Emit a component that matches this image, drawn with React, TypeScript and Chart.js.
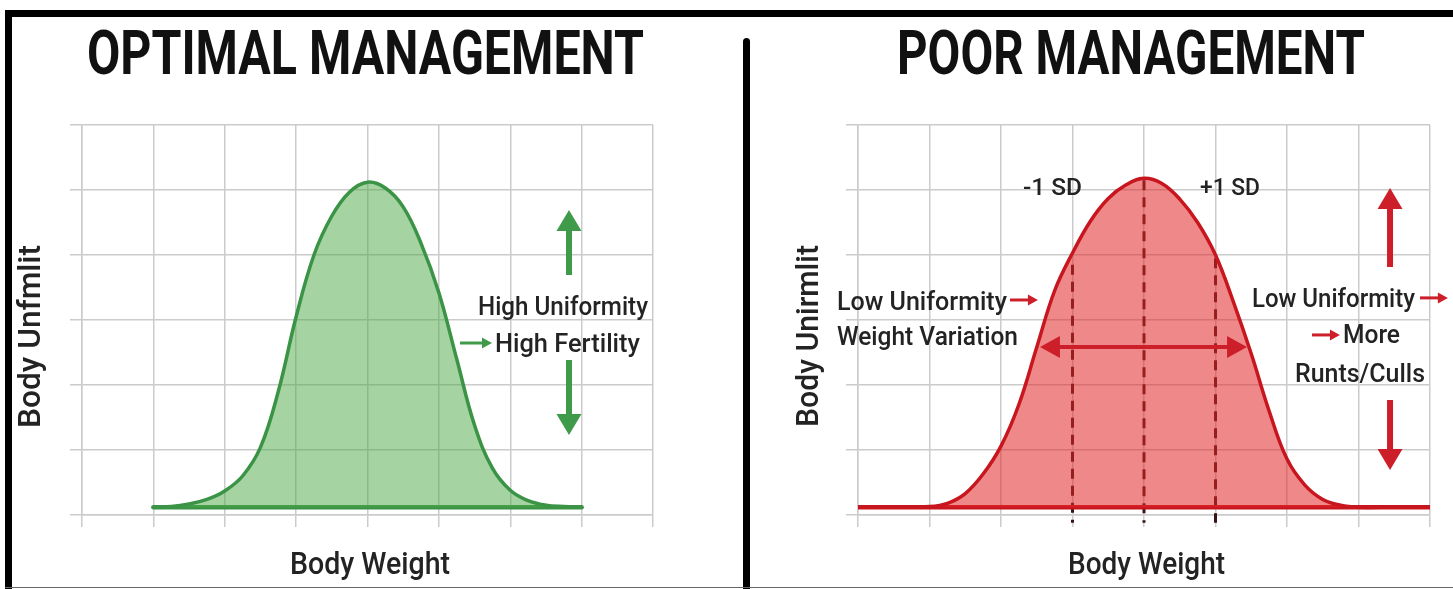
import React, { useEffect, useRef } from "react";
import { Chart, registerables } from "chart.js";

Chart.register(...registerables);

// ---- Data (x = body-weight grid units, y = uniformity grid units) ----
const optimalWeight = [1, 1.25, 1.5, 1.75, 2, 2.25, 2.5, 2.75, 3, 3.25, 3.5, 3.75, 4, 4.25, 4.5, 4.75, 5, 5.25, 5.5, 5.75, 6, 6.25, 6.5, 6.75, 7];
const optimalUniformity = [0.12, 0.13, 0.17, 0.24, 0.37, 0.6, 1.04, 1.9, 3.05, 4.0, 4.6, 4.97, 5.12, 5.03, 4.74, 4.18, 3.42, 2.4, 1.38, 0.72, 0.38, 0.22, 0.15, 0.13, 0.12];

const poorWeight = [0, 0.5, 1, 1.25, 1.5, 1.75, 2, 2.25, 2.5, 2.75, 3, 3.25, 3.5, 3.75, 4, 4.25, 4.5, 4.75, 5, 5.25, 5.5, 5.75, 6, 6.25, 6.5, 6.75, 7, 7.5, 8];
const poorUniformity = [0.12, 0.12, 0.13, 0.18, 0.33, 0.63, 1.06, 1.7, 2.58, 3.45, 4.03, 4.52, 4.87, 5.08, 5.18, 5.1, 4.86, 4.5, 4.0, 3.28, 2.48, 1.6, 0.86, 0.46, 0.24, 0.15, 0.12, 0.12, 0.12];

const baseLevel = 0.12;
const optimalBaseRange = [1, 7];
const poorBaseRange = [0, 8];

const sdLabels = ["-1 SD", "+1 SD"];
const sdPositions = [3, 4, 5];
const sdTops = [3.85, 5.15, 3.95];
const sdBottom = -0.12;

const xRange = [0, 8];
const yRange = [0, 6];

// ---- Styles ----
const GRID = "#cbcbcb";
const TEXT = "#232323";
const GREEN_LINE = "#3b9446";
const GREEN_FILL = "rgba(76,168,70,0.5)";
const GREEN_ARROW = "#3f9a4a";
const RED_LINE = "#c8161f";
const RED_FILL = "rgba(226,40,40,0.55)";
const RED_ARROW = "#cc1f2a";
const DASH = "#3a1212";

type Txt = { text: string; u: number; v: number; w: number; size: number; bold?: boolean; rot?: boolean; title?: boolean };
type Arr = { u1: number; v1: number; u2: number; v2: number; kind: "big" | "small" | "double" };
type Panel = {
  weight: number[];
  values: number[];
  base: number[];
  line: string;
  fill: string;
  arrow: string;
  padding: { left: number; right: number; top: number; bottom: number };
  texts: Txt[];
  arrows: Arr[];
  sd: boolean;
};

const ARROW_STYLE = {
  big: { sw: 6, hw: 25, hl: 21 },
  small: { sw: 3, hw: 11, hl: 10 },
  double: { sw: 4, hw: 22, hl: 20 },
};

const optimalPanel: Panel = {
  weight: optimalWeight,
  values: optimalUniformity,
  base: optimalBaseRange,
  line: GREEN_LINE,
  fill: GREEN_FILL,
  arrow: GREEN_ARROW,
  padding: { left: 58, right: 90, top: 108, bottom: 62 },
  sd: false,
  texts: [
    { text: "OPTIMAL MANAGEMENT", u: 0.07, v: 6.785, w: 557, size: 61, bold: true, title: true },
    { text: "Body Weight", u: 2.914, v: -0.908, w: 160, size: 31 },
    { text: "Body Unfmlit", u: -0.588, v: 1.338, w: 183, size: 31, rot: true },
    { text: "High Uniformity", u: 5.548, v: 3.077, w: 170, size: 25 },
    { text: "High Fertility", u: 5.786, v: 2.508, w: 145, size: 25 },
  ],
  arrows: [
    { u1: 5.296, v1: 2.646, u2: 5.744, v2: 2.646, kind: "small" },
    { u1: 6.823, v1: 3.692, u2: 6.823, v2: 4.692, kind: "big" },
    { u1: 6.823, v1: 2.385, u2: 6.823, v2: 1.231, kind: "big" },
  ],
};

const poorPanel: Panel = {
  weight: poorWeight,
  values: poorUniformity,
  base: poorBaseRange,
  line: RED_LINE,
  fill: RED_FILL,
  arrow: RED_ARROW,
  padding: { left: 96, right: 23, top: 108, bottom: 62 },
  sd: true,
  texts: [
    { text: "POOR MANAGEMENT", u: 0.545, v: 6.785, w: 468, size: 61, bold: true, title: true },
    { text: "Body Weight", u: 2.937, v: -0.908, w: 157, size: 31 },
    { text: "Body Unirmlit", u: -0.559, v: 1.354, w: 182, size: 31, rot: true },
    { text: sdLabels[0], u: 2.308, v: 4.923, w: 59, size: 23 },
    { text: sdLabels[1], u: 4.783, v: 4.923, w: 60, size: 23 },
    { text: "Low Uniformity", u: -0.294, v: 3.154, w: 170, size: 25 },
    { text: "Weight Variation", u: -0.294, v: 2.615, w: 181, size: 25 },
    { text: "Low Uniformity", u: 5.51, v: 3.2, w: 163, size: 25 },
    { text: "More", u: 6.783, v: 2.646, w: 57, size: 25 },
    { text: "Runts/Culls", u: 6.112, v: 2.046, w: 130, size: 25 },
  ],
  arrows: [
    { u1: 2.126, v1: 3.308, u2: 2.517, v2: 3.308, kind: "small" },
    { u1: 2.545, v1: 2.585, u2: 5.441, v2: 2.585, kind: "double" },
    { u1: 7.86, v1: 3.34, u2: 8.25, v2: 3.34, kind: "small" },
    { u1: 6.35, v1: 2.77, u2: 6.74, v2: 2.77, kind: "small" },
    { u1: 7.441, v1: 3.815, u2: 7.441, v2: 5.031, kind: "big" },
    { u1: 7.441, v1: 1.769, u2: 7.441, v2: 0.692, kind: "big" },
  ],
};

function fitText(ctx: CanvasRenderingContext2D, t: Txt, x: number, y: number) {
  ctx.save();
  ctx.font = t.title
    ? `bold ${t.size}px "Liberation Sans Narrow", "Roboto", "Liberation Sans", sans-serif`
    : `500 ${t.size}px Roboto, "Liberation Sans", sans-serif`;
  ctx.fillStyle = t.title ? "#111111" : TEXT;
  ctx.textAlign = "left";
  ctx.textBaseline = "alphabetic";
  const natural = ctx.measureText(t.text).width || 1;
  ctx.translate(x, y);
  if (t.rot) ctx.rotate(-Math.PI / 2);
  ctx.scale(t.w / natural, 1);
  ctx.fillText(t.text, 0, 0);
  ctx.restore();
}

function drawHead(ctx: CanvasRenderingContext2D, tipX: number, tipY: number, dx: number, dy: number, hw: number, hl: number) {
  const nx = -dy, ny = dx;
  const bx = tipX - dx * hl, by = tipY - dy * hl;
  ctx.beginPath();
  ctx.moveTo(tipX, tipY);
  ctx.lineTo(bx + nx * hw / 2, by + ny * hw / 2);
  ctx.lineTo(bx - nx * hw / 2, by - ny * hw / 2);
  ctx.closePath();
  ctx.fill();
}

function drawArrow(ctx: CanvasRenderingContext2D, a: Arr, x1: number, y1: number, x2: number, y2: number, color: string) {
  const st = ARROW_STYLE[a.kind];
  const len = Math.hypot(x2 - x1, y2 - y1) || 1;
  const dx = (x2 - x1) / len, dy = (y2 - y1) / len;
  ctx.save();
  ctx.fillStyle = color;
  ctx.strokeStyle = color;
  ctx.lineWidth = st.sw;
  ctx.lineCap = "butt";
  const sx = a.kind === "double" ? x1 + dx * (st.hl - 2) : x1;
  const sy = a.kind === "double" ? y1 + dy * (st.hl - 2) : y1;
  ctx.beginPath();
  ctx.moveTo(sx, sy);
  ctx.lineTo(x2 - dx * (st.hl - 2), y2 - dy * (st.hl - 2));
  ctx.stroke();
  drawHead(ctx, x2, y2, dx, dy, st.hw, st.hl);
  if (a.kind === "double") drawHead(ctx, x1, y1, -dx, -dy, st.hw, st.hl);
  ctx.restore();
}

function makeChart(canvas: HTMLCanvasElement, p: Panel) {
  const curve = p.weight.map((w, i) => ({ x: w, y: p.values[i] }));
  const datasets: any[] = [
    {
      data: curve,
      borderColor: p.line,
      borderWidth: 3.5,
      backgroundColor: p.fill,
      fill: { value: baseLevel },
      pointRadius: 0,
      tension: 0.4,
    },
    {
      data: p.base.map((w) => ({ x: w, y: baseLevel })),
      borderColor: p.line,
      borderWidth: 4.5,
      fill: false,
      pointRadius: 0,
      borderCapStyle: "round",
    },
  ];
  if (p.sd) {
    sdPositions.forEach((w, i) => {
      datasets.push({
        data: [
          { x: w, y: sdTops[i] },
          { x: w, y: sdBottom },
        ],
        borderColor: DASH,
        borderWidth: 3,
        borderDash: [10, 7],
        fill: false,
        pointRadius: 0,
        clip: false,
      });
    });
  }

  const annotate = {
    id: "annotate",
    afterDraw(chart: any) {
      const ctx = chart.ctx as CanvasRenderingContext2D;
      const xs = chart.scales.x, ys = chart.scales.y;
      p.arrows.forEach((a) => {
        drawArrow(ctx, a, xs.getPixelForValue(a.u1), ys.getPixelForValue(a.v1), xs.getPixelForValue(a.u2), ys.getPixelForValue(a.v2), p.arrow);
      });
      p.texts.forEach((t) => fitText(ctx, t, xs.getPixelForValue(t.u), ys.getPixelForValue(t.v)));
    },
  };

  const axis = (range: number[]) => ({
    type: "linear",
    min: range[0],
    max: range[1],
    ticks: { display: false, stepSize: 1 },
    grid: { color: GRID, lineWidth: 1.5, tickLength: 12, drawTicks: true },
    border: { display: true, color: GRID, width: 1.5 },
  });

  return new Chart(canvas, {
    type: "line",
    data: { datasets },
    options: {
      animation: false,
      responsive: false,
      devicePixelRatio: 1,
      events: [],
      layout: { padding: p.padding },
      plugins: { legend: { display: false }, tooltip: { enabled: false } },
      scales: { x: axis(xRange) as any, y: axis(yRange) as any },
    },
    plugins: [annotate],
  } as any);
}

export default function App() {
  const leftRef = useRef<HTMLCanvasElement>(null);
  const rightRef = useRef<HTMLCanvasElement>(null);
  useEffect(() => {
    const a = makeChart(leftRef.current!, optimalPanel);
    const b = makeChart(rightRef.current!, poorPanel);
    return () => {
      a.destroy();
      b.destroy();
    };
  }, []);
  return (
    <div style={{ position: "absolute", left: 0, top: 0, width: 1453, height: 589, background: "#fff", overflow: "hidden" }}>
      <div style={{ position: "absolute", left: 5, top: 10, width: 1448, height: 7, background: "#000" }} />
      <div style={{ position: "absolute", left: 5, top: 10, width: 7, height: 579, background: "#000" }} />
      <div style={{ position: "absolute", left: 743, top: 38, width: 7, height: 551, background: "#000", borderRadius: "4px 4px 0 0" }} />
      <div style={{ position: "absolute", left: 5, top: 587, width: 1448, height: 1, background: "#666" }} />
      <canvas ref={leftRef} width={731} height={572} style={{ position: "absolute", left: 12, top: 17, width: 731, height: 572 }} />
      <canvas ref={rightRef} width={703} height={572} style={{ position: "absolute", left: 750, top: 17, width: 703, height: 572 }} />
    </div>
  );
}
